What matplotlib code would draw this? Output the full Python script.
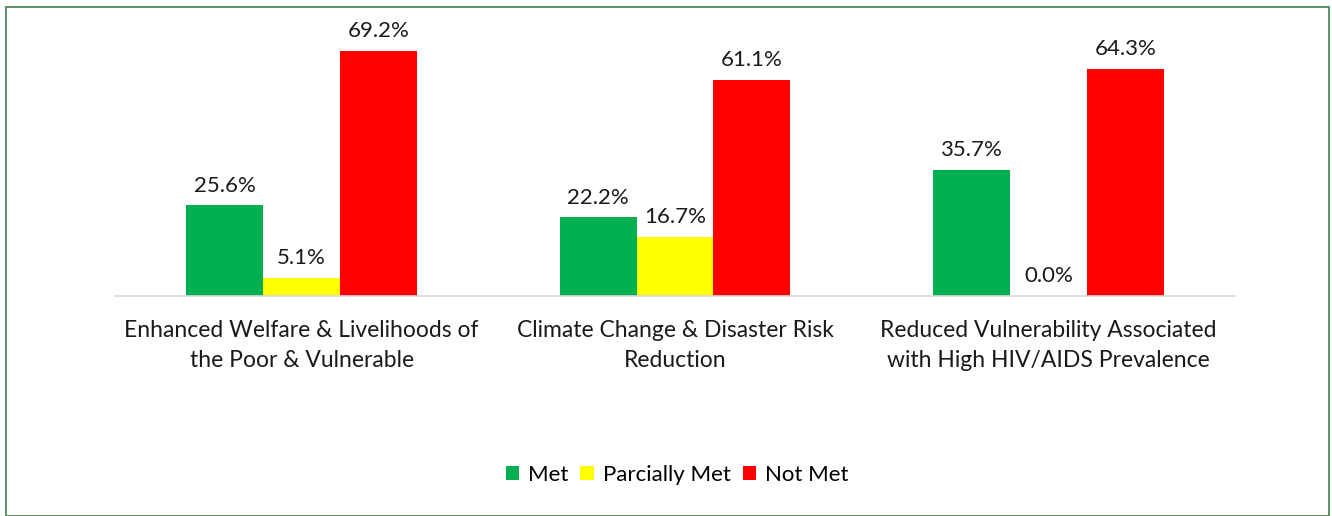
import matplotlib
matplotlib.use("Agg")
import matplotlib.pyplot as plt
from matplotlib.patches import Rectangle
import numpy as np

categories = [
    "Enhanced Welfare & Livelihoods of\nthe Poor & Vulnerable",
    "Climate Change & Disaster Risk\nReduction",
    "Reduced Vulnerability Associated\nwith High HIV/AIDS Prevalence",
]
series_names = ["Met", "Parcially Met", "Not Met"]
met = [25.6, 22.2, 35.7]
partially_met = [5.1, 16.7, 0.0]
not_met = [69.2, 61.1, 64.3]
colors = ["#00B050", "#FFFF00", "#FF0000"]

plt.rcParams["font.family"] = ["Lato", "DejaVu Sans"]

W, H = 1332, 516
fig = plt.figure(figsize=(W / 100, H / 100), dpi=100)

# outer frame around the chart
fig.patches.append(Rectangle((6 / W, 0), (1329 - 6) / W, (H - 7) / H,
                             transform=fig.transFigure, fill=False,
                             edgecolor="#3f7f4a", linewidth=1.2))

ax = fig.add_axes([115 / W, (H - 296) / H, (1235 - 115) / W, (296 - 13) / H])

x = np.arange(len(categories))
bw = 0.206
values = [met, partially_met, not_met]
for i, (name, vals, c) in enumerate(zip(series_names, values, colors)):
    pos = x + (i - 1) * bw
    ax.bar(pos, vals, width=bw, color=c, label=name, zorder=2)
    for p, v in zip(pos, vals):
        ax.annotate(f"{v:.1f}%", (p, v), xytext=(0, 7), textcoords="offset points",
                    ha="center", va="bottom", fontsize=16, color="#1a1a1a")

ax.set_xlim(-0.5, len(categories) - 0.5)
ax.set_ylim(0, 80)
ax.set_yticks([])
for s in ["top", "right", "left"]:
    ax.spines[s].set_visible(False)
ax.spines["bottom"].set_color("#d9d9d9")
ax.spines["bottom"].set_linewidth(1.2)
ax.set_xticks(x)
ax.set_xticklabels(categories, fontsize=16.5, color="#1a1a1a", linespacing=1.55)
ax.tick_params(axis="x", length=0, pad=17)

fig.legend(loc="center", bbox_to_anchor=(677 / W, (H - 475) / H), ncol=3,
           frameon=False, fontsize=16, handlelength=0.6, handleheight=0.6,
           handletextpad=0.4, columnspacing=0.55)

fig.savefig("out.png", dpi=100)
